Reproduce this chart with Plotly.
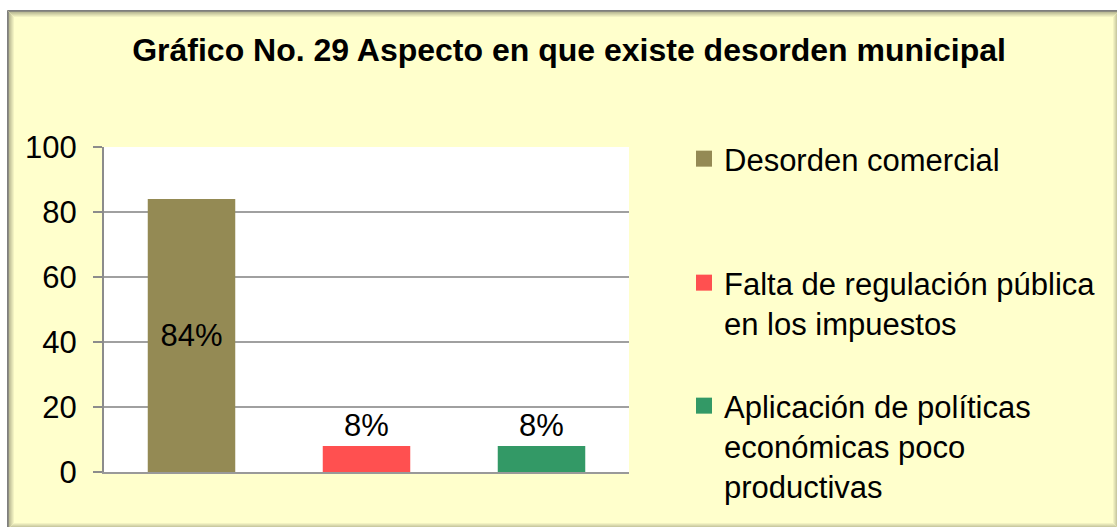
import plotly.graph_objects as go

# ---- data ----
categories = ["Desorden comercial",
              "Falta de regulación pública en los impuestos",
              "Aplicación de políticas económicas poco productivas"]
legend_names = ["Desorden comercial",
                "Falta de regulación pública<br>en los impuestos",
                "Aplicación de políticas<br>económicas poco<br>productivas"]
values = [84, 8, 8]
value_labels = ["84%", "8%", "8%"]
colors = ["#948A54", "#FF5050", "#339966"]
y_ticks = [0, 20, 40, 60, 80, 100]
title_text = "Gráfico No. 29 Aspecto en que existe desorden municipal"

# ---- layout geometry (pixels) ----
W, H = 1117, 527
PL, PR, PT, PB = 104, 629, 147, 472
FONT = "Liberation Sans, Arial, sans-serif"
YELLOW = "#FFFFCC"


def xp(px):
    return (px - PL) / (PR - PL)


def yp(py):
    return (PB - py) / (PB - PT)


fig = go.Figure()

text_pos = ["inside", "outside", "outside"]
legend_ids = ["legend", "legend2", "legend3"]
for i, cat in enumerate(categories):
    fig.add_trace(go.Bar(
        x=[cat], y=[values[i]], width=0.5,
        marker=dict(color=colors[i], line=dict(width=0)),
        text=[value_labels[i]], textposition=text_pos[i],
        insidetextanchor="middle", constraintext="none",
        textfont=dict(family=FONT, size=31, color="black"),
        cliponaxis=False, showlegend=False, legendgroup=cat,
        hoverinfo="skip",
    ))
    # legend entry (square swatch)
    fig.add_trace(go.Scatter(
        x=[None], y=[None], mode="markers", name=legend_names[i],
        marker=dict(symbol="square", size=16, color=colors[i]),
        legendgroup=cat, legend=legend_ids[i], showlegend=True,
    ))

# ---- background frame with soft inner shadow ----
def blend(c1, c2, t):
    a = [int(c1[k:k + 2], 16) for k in (1, 3, 5)]
    b = [int(c2[k:k + 2], 16) for k in (1, 3, 5)]
    return "#" + "".join(f"{round(a[j] + (b[j] - a[j]) * t):02X}" for j in range(3))


shapes = []
# white page outside the frame (top and left strips)
shapes.append(dict(type="rect", xref="paper", yref="paper", layer="above",
                   x0=xp(-20), x1=xp(W + 20), y0=yp(10), y1=yp(-20),
                   fillcolor="white", line=dict(width=0)))
shapes.append(dict(type="rect", xref="paper", yref="paper", layer="above",
                   x0=xp(-20), x1=xp(7), y0=yp(H + 20), y1=yp(-20),
                   fillcolor="white", line=dict(width=0)))
# border + inner shadow (right/bottom border falls just outside the picture)
steps = ["#7F7F7F", "#8C8C80"] + [blend("#B0B08C", YELLOW, t / 6) for t in range(1, 7)]
for i, c in enumerate(steps):
    x0 = 7.5 + i
    y0 = 10.5 + i
    x1 = W + 2.5 - i
    y1 = H + 2.5 - i
    shapes.append(dict(type="rect", xref="paper", yref="paper", layer="above",
                       x0=xp(x0), x1=xp(x1), y0=yp(y1), y1=yp(y0),
                       line=dict(color=c, width=1), fillcolor="rgba(0,0,0,0)"))

legend_common = dict(font=dict(family=FONT, size=31, color="black"),
                     bgcolor="rgba(0,0,0,0)", borderwidth=0,
                     xanchor="left", yanchor="top", valign="top",
                     itemclick=False, itemdoubleclick=False)

fig.update_layout(
    width=W, height=H,
    margin=dict(l=PL, r=W - PR, t=PT, b=H - PB, pad=0, autoexpand=False),
    paper_bgcolor=YELLOW, plot_bgcolor="white",
    barmode="relative",
    title=dict(text=f"<b>{title_text}</b>", x=569 / W, xref="container",
               xanchor="center", y=1 - 50 / H, yref="container", yanchor="middle",
               font=dict(family=FONT, size=32, color="black")),
    xaxis=dict(type="category", categoryorder="array", categoryarray=categories,
               showticklabels=False, ticks="", showgrid=False,
               showline=True, linecolor="#999999", linewidth=2,
               range=[-0.5, 2.5], fixedrange=True),
    yaxis=dict(range=[0, 100], tickvals=y_ticks, ticktext=[str(v) for v in y_ticks],
               showgrid=True, gridcolor="#A0A0A0", gridwidth=2,
               zeroline=False, showline=True, linecolor="#8C8C8C", linewidth=2,
               ticks="outside", ticklen=9, tickwidth=2, tickcolor="#8C8C8C",
               ticklabelstandoff=10,
               tickfont=dict(family=FONT, size=31, color="black"),
               fixedrange=True),
    legend=dict(x=xp(684), y=yp(132), **legend_common),
    legend2=dict(x=xp(684), y=yp(256), **legend_common),
    legend3=dict(x=xp(684), y=yp(379), **legend_common),
    shapes=shapes,
    showlegend=True,
)

fig.write_html("out.html", config={"displayModeBar": False},
               post_script="document.body.style.margin='0';")
